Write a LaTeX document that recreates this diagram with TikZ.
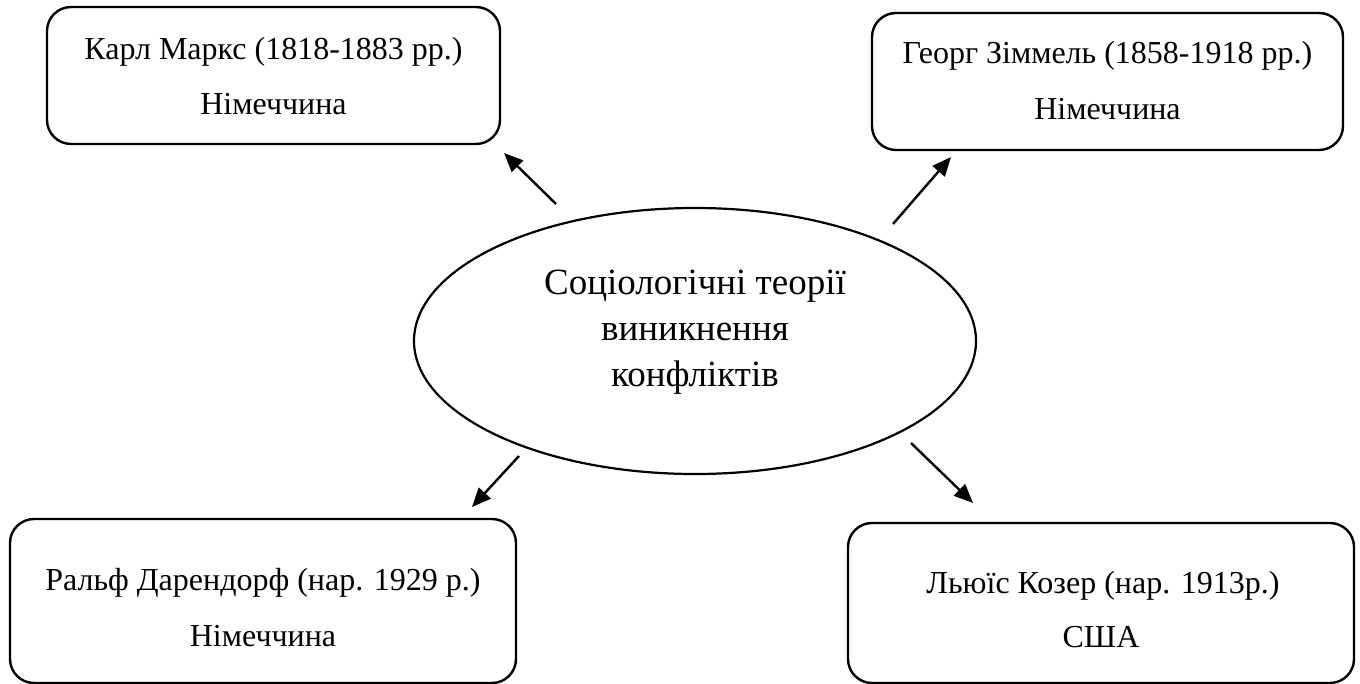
\documentclass[tikz,border=0pt]{standalone}
\usepackage{fontspec}
\setmainfont{Liberation Serif}
\usetikzlibrary{arrows.meta,shapes.geometric}
\begin{document}
\begin{tikzpicture}[x=1pt,y=-1pt,
  card/.style={draw, line width=2.4pt, rounded corners=24pt, inner sep=0pt},
  core/.style={draw, ellipse, line width=2.2pt, inner sep=0pt},
  cardtext/.style={anchor=base, inner sep=0pt, font=\fontsize{32}{38}\selectfont},
  coretext/.style={anchor=base, inner sep=0pt, font=\fontsize{37}{44}\selectfont},
  link/.style={line width=2.4pt, -{Triangle[length=19pt,width=16pt]}}
]
\useasboundingbox (0,0) rectangle (1360,684);

% central ellipse
\node[core, minimum width=562pt, minimum height=266pt] (theory) at (695,341) {};
\node[coretext] (theory1) at (695,295) {Соціологічні теорії};
\node[coretext] (theory2) at (695,341) {виникнення};
\node[coretext] (theory3) at (695,387) {конфліктів};

% four thinkers
\node[card, minimum width=453pt, minimum height=137pt] (marx) at (273.5,75.5) {};
\node[cardtext] (marx1) at (273.5,60) {Карл Маркс (1818-1883 рр.)};
\node[cardtext] (marx2) at (273.5,115) {Німеччина};

\node[card, minimum width=471pt, minimum height=137pt] (simmel) at (1107.5,81.5) {};
\node[cardtext] (simmel1) at (1107.5,64) {Георг Зіммель (1858-1918 рр.)};
\node[cardtext] (simmel2) at (1107.5,120) {Німеччина};

\node[card, minimum width=506pt, minimum height=164pt] (dahr) at (263,601) {};
\node[cardtext] (dahr1) at (263,590) {Ральф Дарендорф (нар. 1929 р.)};
\node[cardtext] (dahr2) at (263,646) {Німеччина};

\node[card, minimum width=506pt, minimum height=160pt] (coser) at (1101,603) {};
\node[cardtext] (coser1) at (1103,593) {Льюїс Козер (нар. 1913р.)};
\node[cardtext] (coser2) at (1101,647) {США};

% arrow ends
\coordinate (m0) at (556,204); \coordinate (m1) at (504,153);
\coordinate (s0) at (893,224); \coordinate (s1) at (951,157);
\coordinate (d0) at (519,456); \coordinate (d1) at (472,507);
\coordinate (c0) at (911,443); \coordinate (c1) at (973,503);

\draw[link] (m0) -- (m1);
\draw[link] (s0) -- (s1);
\draw[link] (d0) -- (d1);
\draw[link] (c0) -- (c1);
\end{tikzpicture}
\end{document}
